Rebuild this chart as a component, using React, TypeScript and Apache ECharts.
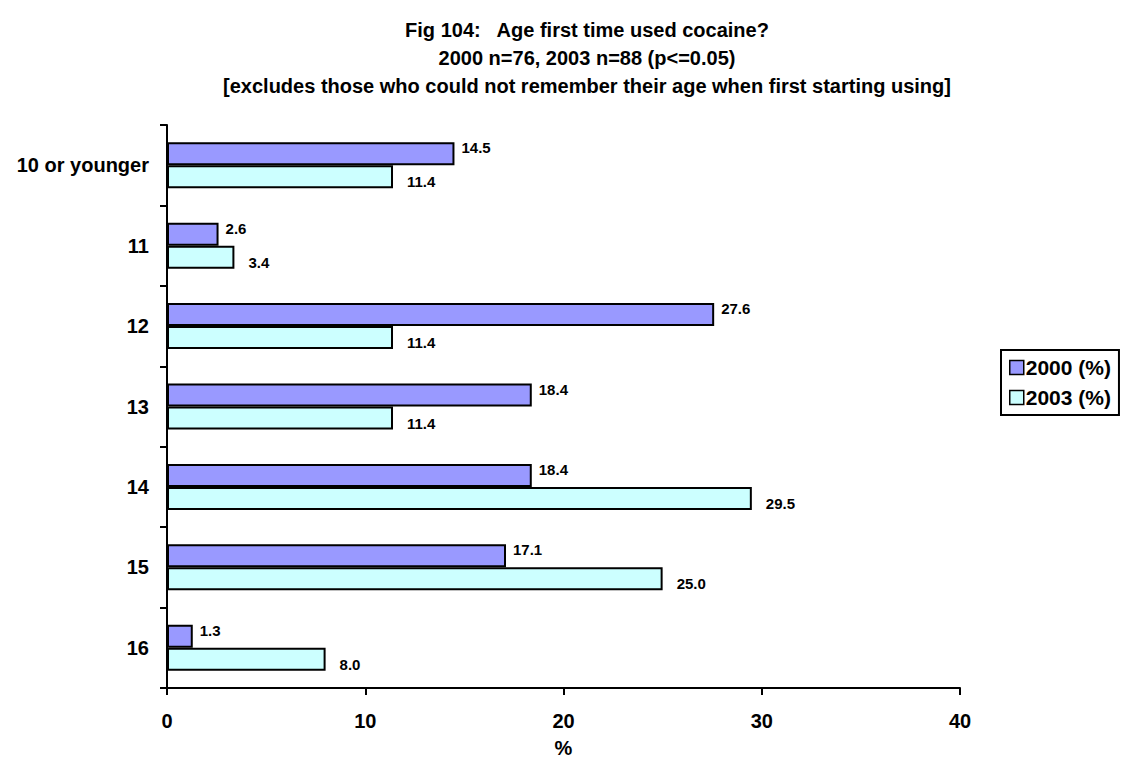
import React, { useEffect, useRef } from "react";
import * as echarts from "echarts";

const categories = ["10 or younger", "11", "12", "13", "14", "15", "16"];
const series2000 = [14.5, 2.6, 27.6, 18.4, 18.4, 17.1, 1.3];
const series2003 = [11.4, 3.4, 11.4, 11.4, 29.5, 25.0, 8.0];
const seriesNames = ["2000 (%)", "2003 (%)"];
const xTicks = [0, 10, 20, 30, 40];
const titleLines = [
  "Fig 104:   Age first time used cocaine?",
  "2000 n=76, 2003 n=88 (p<=0.05)",
  "[excludes those who could not remember their age when first starting using]",
];

const FONT = "'Liberation Sans', Arial, sans-serif";

export default function App() {
  const ref = useRef<HTMLDivElement>(null);
  useEffect(() => {
    if (!ref.current) return;
    const chart = echarts.init(ref.current, undefined, { renderer: "svg" });
    const labelBase = {
      show: true,
      position: "right" as const,
      fontFamily: FONT,
      fontWeight: "bold" as const,
      fontSize: 15,
      color: "#000",
      formatter: (p: any) => Number(p.value).toFixed(1),
    };
    chart.setOption({
      animation: false,
      backgroundColor: "#ffffff",
      title: {
        text: titleLines.join("\n"),
        left: 582,
        textAlign: "center",
        top: 11,
        textStyle: {
          fontFamily: FONT,
          fontWeight: "bold",
          fontSize: 20,
          lineHeight: 28,
          color: "#000",
        },
      },
      legend: {
        orient: "vertical",
        left: 1001,
        top: 350,
        data: seriesNames,
        padding: [7, 8, 7, 8],
        itemGap: 9,
        itemWidth: 14,
        itemHeight: 14,
        icon: "rect",
        borderColor: "#000",
        borderWidth: 2,
        itemStyle: { borderColor: "#000", borderWidth: 1.5 },
        textStyle: {
          fontFamily: FONT,
          fontWeight: "bold",
          fontSize: 21,
          color: "#000",
          padding: [0, 0, 0, -3],
        },
      },
      grid: { left: 167, right: 164, top: 125, bottom: 71, containLabel: false },
      xAxis: {
        type: "value",
        min: xTicks[0],
        max: xTicks[xTicks.length - 1],
        interval: 10,
        name: "%",
        nameLocation: "middle",
        nameGap: 50,
        nameTextStyle: {
          fontFamily: FONT,
          fontWeight: "bold",
          fontSize: 20,
          color: "#000",
        },
        splitLine: { show: false },
        axisLine: { show: true, lineStyle: { color: "#000", width: 2 } },
        axisTick: { show: true, length: 7, inside: false, lineStyle: { color: "#000", width: 2 } },
        axisLabel: {
          margin: 23,
          fontFamily: FONT,
          fontWeight: "bold",
          fontSize: 20,
          color: "#000",
        },
      },
      yAxis: {
        type: "category",
        data: categories,
        inverse: true,
        axisLine: { show: true, lineStyle: { color: "#000", width: 2 } },
        axisTick: { show: true, length: 7, interval: 0, lineStyle: { color: "#000", width: 2 } },
        axisLabel: {
          margin: 18,
          interval: 0,
          fontFamily: FONT,
          fontWeight: "bold",
          fontSize: 20,
          color: "#000",
        },
      },
      series: [
        {
          name: seriesNames[0],
          type: "bar",
          data: series2000,
          barWidth: 23,
          barGap: "0%",
          itemStyle: { color: "#9999FF", borderColor: "#000", borderWidth: 2 },
          label: { ...labelBase, distance: 7, offset: [0, -6] },
        },
        {
          name: seriesNames[1],
          type: "bar",
          data: series2003,
          barWidth: 23,
          barGap: "0%",
          itemStyle: { color: "#CCFFFF", borderColor: "#000", borderWidth: 2 },
          label: { ...labelBase, distance: 14, offset: [0, 5] },
        },
      ],
    });
    return () => chart.dispose();
  }, []);
  return (
    <div
      ref={ref}
      style={{ position: "fixed", left: 0, top: 0, width: 1124, height: 763, background: "#fff" }}
    />
  );
}
